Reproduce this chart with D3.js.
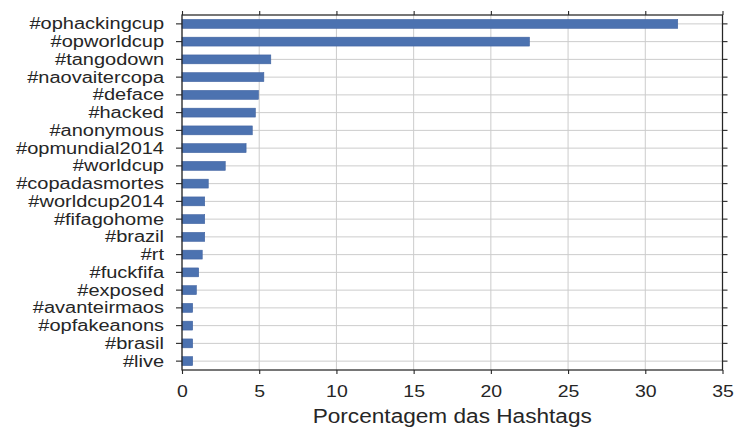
<!DOCTYPE html>
<html><head><meta charset="utf-8">
<script src="https://cdn.jsdelivr.net/npm/d3@7"></script>
<style>body{margin:0;background:#fff}svg{display:block}</style>
</head><body>
<svg id="c" width="747" height="428"></svg>
<script>
const categories = ["#ophackingcup","#opworldcup","#tangodown","#naovaitercopa","#deface","#hacked","#anonymous","#opmundial2014","#worldcup","#copadasmortes","#worldcup2014","#fifagohome","#brazil","#rt","#fuckfifa","#exposed","#avanteirmaos","#opfakeanons","#brasil","#live"];
const values = [32.1,22.5,5.75,5.3,4.95,4.75,4.55,4.15,2.8,1.7,1.47,1.47,1.47,1.31,1.08,0.93,0.69,0.69,0.69,0.69];
const xTicks = [0,5,10,15,20,25,30,35];
const xLabel = "Porcentagem das Hashtags";

const m = {l:182, r:722.5, t:15, b:370};
const svg = d3.select("#c");
const font = "'Liberation Sans', Arial, sans-serif";
const x = d3.scaleLinear().domain([0,35]).range([m.l, m.r]);
const y = d3.scaleBand().domain(categories).range([m.t, m.b]).paddingInner(0.5).paddingOuter(0.25);

function stretch(sel, k){
  sel.each(function(){
    const w = this.getComputedTextLength();
    d3.select(this).attr("textLength", w*k).attr("lengthAdjust","spacingAndGlyphs");
  });
}

// gridlines
svg.append("g").selectAll("line.v").data(xTicks).join("line")
  .attr("x1", d=>x(d)).attr("x2", d=>x(d)).attr("y1", m.t).attr("y2", m.b)
  .attr("stroke","#cccccc").attr("stroke-width",1);
svg.append("g").selectAll("line.h").data(categories).join("line")
  .attr("x1", m.l).attr("x2", m.r).attr("y1", d=>y(d)+y.bandwidth()/2).attr("y2", d=>y(d)+y.bandwidth()/2)
  .attr("stroke","#cccccc").attr("stroke-width",1);

// bars
svg.append("g").selectAll("rect").data(categories).join("rect")
  .attr("x", x(0)).attr("y", d=>y(d)).attr("height", y.bandwidth())
  .attr("width", (d,i)=>x(values[i])-x(0))
  .attr("fill","#4C72B0").attr("stroke","#3f62a0").attr("stroke-width",0.6);

function styleAxis(g){
  g.select(".domain").remove();
  g.selectAll(".tick line").attr("stroke","#262626").attr("stroke-width",1.1);
  g.selectAll("text").attr("font-family",font).attr("fill","#262626");
}
// bottom
svg.append("g").attr("transform",`translate(0,${m.b})`)
  .call(d3.axisBottom(x).tickValues(xTicks).tickSize(4).tickPadding(11).tickFormat(d3.format("d")))
  .call(styleAxis).selectAll("text").attr("font-size",16.5).call(stretch,1.18);
// top
svg.append("g").attr("transform",`translate(0,${m.t})`)
  .call(d3.axisTop(x).tickValues(xTicks).tickSize(4).tickFormat(""))
  .call(styleAxis);
// left
svg.append("g").attr("transform",`translate(${m.l},0)`)
  .call(d3.axisLeft(y).tickSize(6).tickPadding(12))
  .call(styleAxis).selectAll("text").attr("font-size",16).attr("dy","0.34em").call(stretch,1.25);
// right
svg.append("g").attr("transform",`translate(${m.r},0)`)
  .call(d3.axisRight(y).tickSize(5).tickFormat(""))
  .call(styleAxis);

// frame
svg.append("rect").attr("x",m.l).attr("y",m.t).attr("width",m.r-m.l).attr("height",m.b-m.t)
  .attr("fill","none").attr("stroke","#262626").attr("stroke-width",1.25);

svg.append("text").attr("x",(m.l+m.r)/2).attr("y",423).attr("text-anchor","middle")
  .attr("font-family",font).attr("font-size",19.5).attr("fill","#262626").text(xLabel)
  .call(stretch,1.16);
</script>
</body></html>
